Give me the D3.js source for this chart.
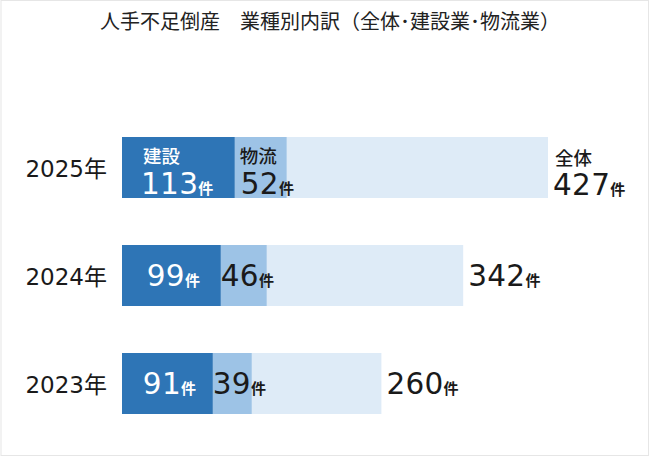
<!DOCTYPE html>
<html><head><meta charset="utf-8">
<script src="https://cdn.jsdelivr.net/npm/d3@7/dist/d3.min.js"></script>
<style>html,body{margin:0;padding:0;background:#fff;}svg{display:block;}</style>
</head><body>
<script>
const title = "人手不足倒産　業種別内訳（全体･建設業･物流業）";
const years = ["2025年", "2024年", "2023年"];
const construction = [113, 99, 91];
const logistics = [52, 46, 39];
const total = [427, 342, 260];
const unit = "件";
const seriesNames = ["建設", "物流", "全体"];

const W = 650, H = 458;
const svg = d3.select("body").append("svg").attr("width", W).attr("height", H);
svg.append("rect").attr("x", 1).attr("y", 0.5).attr("width", W - 2.5).attr("height", H - 3)
  .attr("fill", "#fff").attr("stroke", "#e6e6e6").attr("stroke-width", 1);

const CJK = "'Noto Sans CJK JP', 'Noto Sans', sans-serif";
const NUM = "'DejaVu Sans', 'Noto Sans', sans-serif";
const colors = {c: "#2e75b6", l: "#9dc3e6", t: "#deebf7"};

svg.append("text").attr("x", 330).attr("y", 29).attr("text-anchor", "middle")
  .attr("font-family", CJK).attr("font-size", 20).attr("fill", "#222").text(title);

const x = d3.scaleLinear().domain([0, 427]).range([122, 548]);
const y = d3.scalePoint().domain(years).range([167.5, 383.5]);
const bh = 61;

const rows = years.map((yr, i) => ({yr, i, c: construction[i], l: logistics[i], t: total[i]}));
const g = svg.selectAll("g.row").data(rows).enter().append("g").attr("class", "row");

g.append("rect").attr("x", x(0)).attr("y", d => y(d.yr) - bh / 2)
  .attr("width", d => x(d.t) - x(0)).attr("height", bh).attr("fill", colors.t);
g.append("rect").attr("x", d => x(d.c)).attr("y", d => y(d.yr) - bh / 2)
  .attr("width", d => x(d.c + d.l) - x(d.c)).attr("height", bh).attr("fill", colors.l);
g.append("rect").attr("x", x(0)).attr("y", d => y(d.yr) - bh / 2)
  .attr("width", d => x(d.c) - x(0)).attr("height", bh).attr("fill", colors.c);

// year labels
g.append("text").attr("x", 107).attr("y", d => y(d.yr) + 9.5).attr("text-anchor", "end")
  .attr("font-size", 23).attr("fill", "#1a1a1a")
  .each(function(d) {
    const t = d3.select(this);
    t.append("tspan").attr("font-family", NUM).text(d.yr.replace("年", ""));
    t.append("tspan").attr("font-family", CJK).text("年");
  });

function numLabel(sel, val, xPos, yPos, fill, anchor) {
  const t = sel.append("text").attr("x", xPos).attr("y", yPos).attr("fill", fill)
    .attr("text-anchor", anchor || "start");
  t.append("tspan").attr("font-family", NUM).attr("font-size", 29.5).attr("letter-spacing", 0.3).text(val);
  t.append("tspan").attr("font-family", CJK).attr("font-size", 15).attr("font-weight", 700).attr("dx", 0).text(unit);
  return t;
}

g.each(function(d) {
  const s = d3.select(this);
  const cy = y(d.yr);
  const first = d.i === 0;
  const numY = first ? cy + 26.5 : cy + 10;
  // construction
  if (first) {
    s.append("text").attr("x", x(0) + 21).attr("y", cy - 5).attr("fill", "#fff")
      .attr("font-family", CJK).attr("font-size", 18.5).attr("font-weight", 500).text(seriesNames[0]);
    numLabel(s, d.c, x(0) + 19, numY, "#fff");
  } else {
    numLabel(s, d.c, (x(0) + x(d.c)) / 2 + 2, numY, "#fff", "middle");
  }
  // logistics
  if (first) {
    s.append("text").attr("x", x(d.c) + 5).attr("y", cy - 5).attr("fill", "#1a1a1a")
      .attr("font-family", CJK).attr("font-size", 18.5).attr("font-weight", 500).text(seriesNames[1]);
    numLabel(s, d.l, x(d.c) + 6, numY, "#1a1a1a");
  } else {
    numLabel(s, d.l, x(d.c) + 0, numY, "#1a1a1a");
  }
  // total
  if (first) {
    s.append("text").attr("x", x(d.t) + 7).attr("y", cy - 3).attr("fill", "#1a1a1a")
      .attr("font-family", CJK).attr("font-size", 18.5).attr("font-weight", 500).text(seriesNames[2]);
  }
  numLabel(s, d.t, x(d.t) + 5, first ? cy + 27.5 : cy + 10, "#1a1a1a");
});
</script>
</body></html>
